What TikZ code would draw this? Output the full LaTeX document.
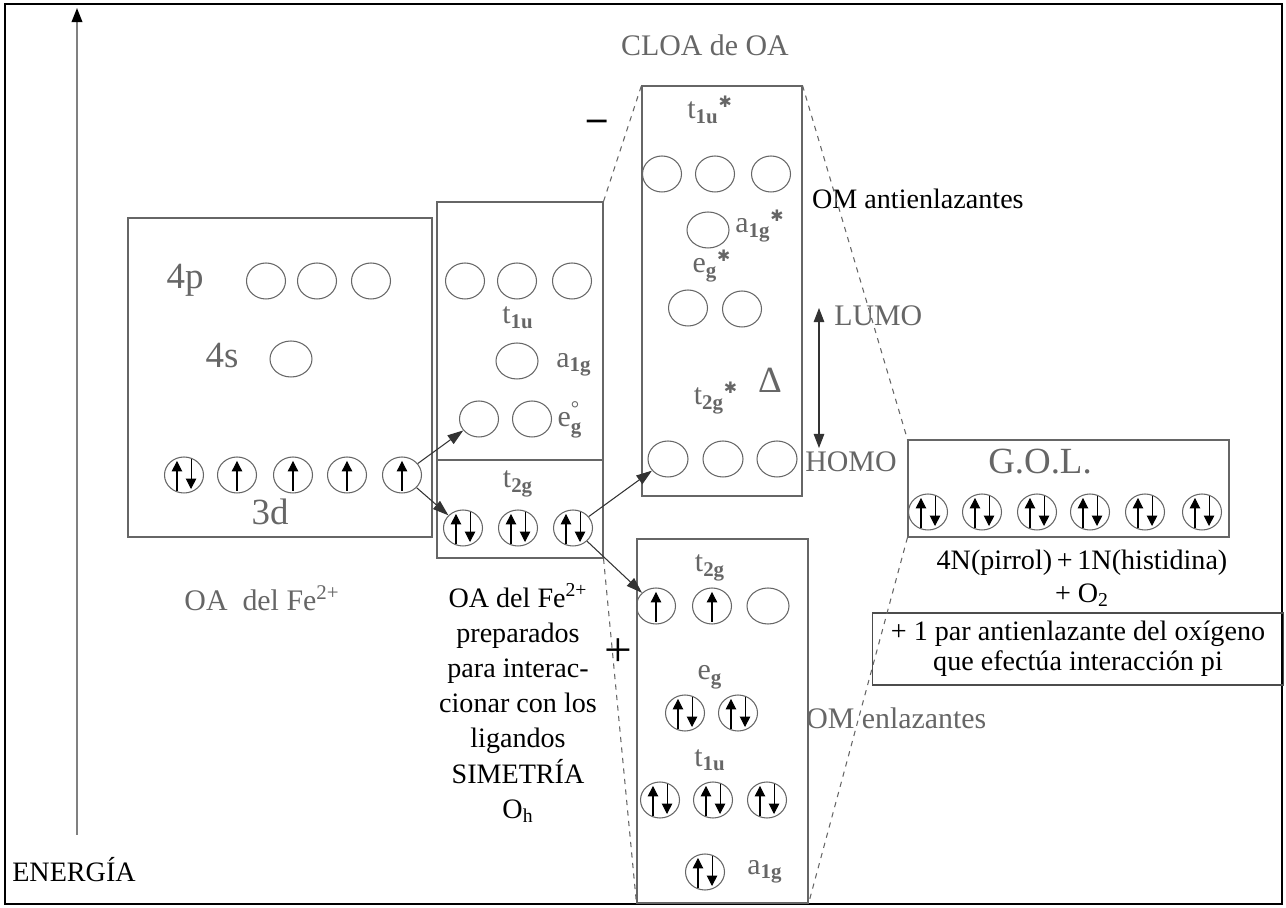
\documentclass[tikz,border=0pt]{standalone}
\usepackage{amsmath}
\usepackage{fontspec}
\setmainfont{Liberation Serif}
\newfontfamily\symfont{DejaVu Sans}
\usetikzlibrary{shapes.geometric, arrows.meta, fit}

\newcommand{\starsym}{{\symfont\fontsize{9}{9}\selectfont ✱}}
\newcommand{\orbl}[2]{#1\textsubscript{\bfseries #2}}
\newcommand{\orbls}[2]{#1\textsubscript{\bfseries #2}\textsuperscript{\starsym}}

\begin{document}
\begin{tikzpicture}[x=0.02cm, y=-0.02cm, font=\fontsize{16}{20}\selectfont]
\tikzstyle{box} = [rectangle, draw=black!60, line width=0.6pt, inner sep=0pt]
\tikzstyle{orb} = [ellipse, draw=black!60, line width=0.6pt, minimum width=0.78cm, minimum height=0.72cm, inner sep=0pt]
\tikzstyle{spin} = [black, line width=0.6pt, -{Triangle[length=6pt, width=6pt]}]
\tikzstyle{orbup} = [orb, path picture={\draw[spin] ([yshift=-9pt]path picture bounding box.center) -- ++(0pt,17pt);}]
\tikzstyle{orbpair} = [orb, path picture={
    \draw[spin] ([xshift=-4pt, yshift=-9pt]path picture bounding box.center) -- ++(0pt,17pt);
    \draw[spin] ([xshift=4pt, yshift=9pt]path picture bounding box.center) -- ++(0pt,-17pt);}]
\tikzstyle{lbl} = [text=black!60, font=\fontsize{17}{19}\selectfont, inner sep=0pt]
\tikzstyle{big} = [text=black!60, font=\fontsize{21}{21}\selectfont, inner sep=0pt]
\tikzstyle{txt} = [text=black, inner sep=1pt]
\tikzstyle{conn} = [draw, black!80, line width=0.6pt, -{Triangle[length=9pt, width=6pt]}]
\tikzstyle{proj} = [draw, black!60, dashed, line width=0.6pt]

\useasboundingbox (0,0) rectangle (1286,908);
\node[draw=black, line width=1pt, inner sep=0pt, fit={(5,4) (1282,904)}] (frame) {};

% energy axis
\coordinate (ebot) at (77,835);
\coordinate (etop) at (77,8);
\draw[black!50, line width=1pt, -{Triangle[length=8pt, width=6pt, color=black]}] (ebot) -- (etop);
\node[txt] (energy) at (74,870) {ENERGÍA};

% OA del Fe
\node[box, fit={(128,218) (432,537)}] (feBox) {};
\node[big] (l4p) at (185,280) {4p};
\node[big] (l4s) at (222,356) {4s};
\node[big] (l3d) at (270,512) {3d};
\foreach \n/\x in {1/266,2/317,3/371} \node[orb] (p\n) at (\x,281) {};
\node[orb, minimum width=0.84cm] (s) at (291,359) {};
\node[orbpair] (d1) at (184,475) {};
\foreach \n/\x in {2/237,3/293,4/347,5/402} \node[orbup] (d\n) at (\x,475) {};
\node[lbl] (feLabel) at (262,598) {OA \ del Fe\textsuperscript{2+}};

% OA preparados
\node[box, fit={(437,202) (603,460)}] (prepTop) {};
\node[box, fit={(437,460) (603,558)}] (prepBot) {};
\foreach \n/\x in {1/465,2/517,3/572} \node[orb] (pt\n) at (\x,281) {};
\node[lbl] (lpt) at (518,318) {\orbl{t}{1u}};
\node[orb, minimum width=0.84cm] (pa) at (517,361) {};
\node[lbl] (lpa) at (574,365) {\orbl{a}{1g}};
\node[orb] (pe1) at (479,419) {};
\node[orb] (pe2) at (532,419) {};
\node[lbl] (lpe) at (570,420) {$\text{e}_{\text{\bfseries g}}^{\text{°}}$};
\node[lbl] (lpt2) at (518,484) {\orbl{t}{2g}};
\foreach \n/\x in {1/463,2/518,3/573} \node[orbpair] (q\n) at (\x,528) {};
\node[txt, align=center] (prepText) at (518,703) {OA del Fe\textsuperscript{2+}\\preparados\\para interac-\\cionar con los\\ligandos\\SIMETRÍA\\O\textsubscript{h}};

% CLOA antienlazantes
\node[box, fit={(642,86) (802,496)}] (cloa) {};
\node[lbl] (cloaLabel) at (705,45) {CLOA de OA};
\node[txt, font=\fontsize{22}{22}\bfseries] (minus) at (597,125) {–};
\node[lbl] (lt1s) at (710,110) {\orbls{t}{1u}};
\foreach \n/\x in {1/662,2/715,3/771} \node[orb] (c\n) at (\x,174) {};
\node[orb, minimum width=0.84cm] (ca) at (708,230) {};
\node[lbl] (las) at (760,226) {\orbls{a}{1g}};
\node[lbl] (les) at (712,266) {\orbls{e}{g}};
\node[orb] (ce1) at (688,308) {};
\node[orb] (ce2) at (742,309) {};
\node[lbl] (lt2s) at (716,398) {\orbls{t}{2g}};
\node[big] (delta) at (770,380) {Δ};
\foreach \n/\x in {1/668,2/723,3/777} \node[orb, minimum width=0.8cm] (h\n) at (\x,459) {};
\coordinate (lumo) at (819,308);
\coordinate (homo) at (819,448);
\draw[black!80, line width=0.6pt, {Triangle[length=8pt, width=6pt]}-{Triangle[length=8pt, width=6pt]}] (lumo) -- (homo);
\node[lbl, anchor=west] (lumoLabel) at (834,316) {LUMO};
\node[lbl, anchor=west] (homoLabel) at (805,462) {HOMO};
\node[txt, anchor=west] (antiLabel) at (810,199) {OM antienlazantes};

% G.O.L.
\node[box, fit={(908,440) (1229,537)}] (gol) {};
\node[big] (golLabel) at (1040,462) {G.O.L.};
\foreach \n/\x in {1/928,2/982,3/1037,4/1090,5/1145,6/1202} \node[orbpair] (g\n) at (\x,512) {};
\node[txt] (ligN) at (1082,563) {4N(pirrol)\,+\,1N(histidina)};
\node[txt] (ligO) at (1082,595) {+ O\textsubscript{2}};
\node[box, draw=black!70, minimum width=8.24cm, minimum height=1.44cm, align=center, font=\fontsize{16}{17}\selectfont] (oxBox) at (1078,649) {+ 1 par antienlazante del oxígeno\\que efectúa interacción pi};

% CLOA enlazantes
\node[box, fit={(637,539) (808,903)}] (bond) {};
\node[lbl] (lb1) at (710,568) {\orbl{t}{2g}};
\node[orbup] (b1) at (656,606) {};
\node[orbup] (b2) at (712,606) {};
\node[orb, minimum width=0.84cm] (b3) at (768,606) {};
\node[lbl] (lb2) at (710,677) {\orbl{e}{g}};
\node[orbpair] (be1) at (685,713) {};
\node[orbpair] (be2) at (738,713) {};
\node[lbl] (lb3) at (710,760) {\orbl{t}{1u}};
\foreach \n/\x in {1/660,2/713,3/767} \node[orbpair] (bt\n) at (\x,800) {};
\node[orbpair] (ba) at (705,872) {};
\node[lbl] (lb4) at (765,872) {\orbl{a}{1g}};
\node[txt, font=\fontsize{28}{28}\selectfont] (plus) at (618,653) {+};
\node[lbl, anchor=west] (bondLabel) at (806,718) {OM enlazantes};

\draw[conn] (d5) -- (pe1);
\draw[conn] (d5) -- (q1);
\draw[conn] (q3) -- (h1);
\draw[conn] (q3) -- (b1);
\draw[proj] (prepTop.north east) -- (cloa.north west);
\draw[proj] (cloa.north east) -- (gol.north west);
\draw[proj] (gol.south west) -- (bond.south east);
\draw[proj] (prepBot.south east) -- (bond.south west);
\end{tikzpicture}
\end{document}
